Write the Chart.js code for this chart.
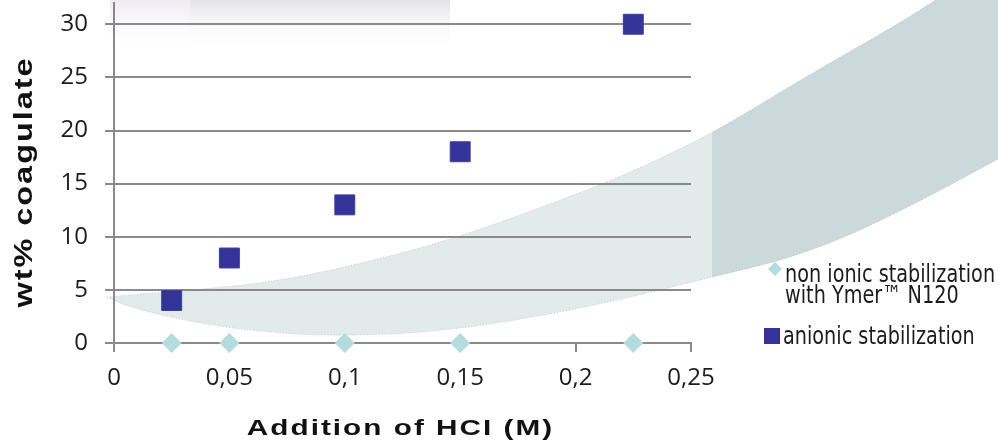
<!DOCTYPE html>
<html>
<head>
<meta charset="utf-8">
<script src="https://cdn.jsdelivr.net/npm/chart.js@4.4.1/dist/chart.umd.min.js"></script>
<style>
  html, body { margin: 0; padding: 0; background: #ffffff; }
  #wrap { width: 998px; height: 445px; position: relative; }
</style>
</head>
<body>
<div id="wrap"><canvas id="c" width="998" height="445"></canvas></div>
<script>
// ---- data ----
const xValues = [0.025, 0.05, 0.1, 0.15, 0.225];
const nonIonicValues = [0, 0, 0, 0, 0];
const anionicValues = [4, 8, 13, 18, 30];
const seriesNames = ['non ionic stabilization with Ymer™ N120', 'anionic stabilization'];
const legendLines = [['non ionic stabilization', 'with Ymer™ N120'], ['anionic stabilization']];
const xTickLabels = ['0', '0,05', '0,1', '0,15', '0,2', '0,25'];
const yTickLabels = ['0', '5', '10', '15', '20', '25', '30'];
const xTitle = 'Addition of HCI (M)';
const yTitle = 'wt% coagulate';

// ---- styles ----
const NAVY = '#333399';
const TEAL = '#b5dcdd';
const GRID = '#8a8a8a';
const TEXT = '#1c1c1c';

function toPoints(xs, ys) { return xs.map((x, i) => ({ x: x, y: ys[i] })); }

// Decorative background (band) drawn behind everything
function smoothPath(ctx, pts, moveFirst) {
  if (moveFirst) ctx.moveTo(pts[0][0], pts[0][1]); else ctx.lineTo(pts[0][0], pts[0][1]);
  for (let i = 1; i < pts.length - 1; i++) {
    const mx = (pts[i][0] + pts[i + 1][0]) / 2, my = (pts[i][1] + pts[i + 1][1]) / 2;
    ctx.quadraticCurveTo(pts[i][0], pts[i][1], mx, my);
  }
  const l = pts[pts.length - 1];
  ctx.lineTo(l[0], l[1]);
}
const bandUpper = [[107,297],[162,292],[228,287],[295,278],[362,263],[425,247],[487,227],[553,203],[620,177],[712,134],[800,80],[900,23],[945,-6]];
const bandLower = [[1000,158],[900,213],[800,256],[712,277],[620,300],[520,320],[425,333],[328,336],[262,332],[195,323],[128,307],[107,297]];

const backgroundPlugin = {
  id: 'decor',
  beforeDraw(chart) {
    const ctx = chart.ctx;
    ctx.save();
    ctx.fillStyle = '#ffffff';
    ctx.fillRect(0, 0, chart.width, chart.height);
    // faint header shading
    let g = ctx.createLinearGradient(0, 0, 0, 52);
    g.addColorStop(0, 'rgba(228,228,230,1)');
    g.addColorStop(1, 'rgba(255,255,255,0)');
    ctx.fillStyle = g;
    ctx.fillRect(190, 0, 260, 52);
    g = ctx.createLinearGradient(0, 0, 0, 52);
    g.addColorStop(0, 'rgba(238,234,242,1)');
    g.addColorStop(1, 'rgba(255,255,255,0)');
    ctx.fillStyle = g;
    ctx.fillRect(110, 0, 80, 52);
    // band
    ctx.beginPath();
    smoothPath(ctx, bandUpper, true);
    ctx.lineTo(1000, -6);
    smoothPath(ctx, bandLower, false);
    ctx.closePath();
    ctx.fillStyle = '#e3eaea';
    ctx.fill();
    ctx.save();
    ctx.clip();
    ctx.fillStyle = '#cbd9da';
    ctx.fillRect(712, -10, 300, 400);
    ctx.restore();
    // grainy edges
    ctx.setLineDash([1, 2]);
    ctx.lineWidth = 1;
    ctx.strokeStyle = 'rgba(130,130,130,0.35)';
    ctx.beginPath(); smoothPath(ctx, bandUpper, true); ctx.stroke();
    ctx.beginPath(); smoothPath(ctx, bandLower, true); ctx.stroke();
    ctx.restore();
  }
};

// Wide (stretched) axis titles
const titleStretchPlugin = {
  id: 'titleStretch',
  beforeDraw(chart) {
    const cfg = { x: { ls: '1.5px', k: 1.35, d: -2 }, y: { ls: '1.5px', k: 1.3, d: 9 } };
    for (const id of ['x', 'y']) {
      const s = chart.scales[id];
      if (!s || s._stretchedTitle) continue;
      const orig = s.drawTitle.bind(s);
      s.drawTitle = function () {
        const c = this.ctx;
        const o = cfg[id];
        c.save();
        c.letterSpacing = o.ls;
        if (id === 'x') {
          const cx = (this.left + this.right) / 2;
          c.translate(cx + o.d, 0); c.scale(o.k, 1); c.translate(-cx, 0);
        } else {
          const cy = (this.top + this.bottom) / 2;
          c.translate(0, cy + o.d); c.scale(1, o.k); c.translate(0, -cy);
        }
        orig();
        c.restore();
      };
      s._stretchedTitle = true;
    }
  }
};

// Custom legend on the right
const legendPlugin = {
  id: 'sideLegend',
  afterDraw(chart) {
    const ctx = chart.ctx;
    ctx.save();
    ctx.font = '25px "DejaVu Sans"';
    ctx.textBaseline = 'alphabetic';
    const scaleX = 0.77;
    const drawLine = (t, x, y) => {
      ctx.save();
      ctx.translate(x, y);
      ctx.scale(scaleX, 1);
      ctx.fillStyle = TEXT;
      ctx.fillText(t, 0, 0);
      ctx.restore();
    };
    const ds0 = chart.data.datasets[0];
    ctx.fillStyle = ds0.backgroundColor;
    ctx.beginPath();
    ctx.moveTo(768, 269); ctx.lineTo(775, 262); ctx.lineTo(782, 269); ctx.lineTo(775, 276);
    ctx.closePath(); ctx.fill();
    drawLine(legendLines[0][0], 785, 282);
    drawLine(legendLines[0][1], 785, 303);
    const ds1 = chart.data.datasets[1];
    ctx.fillStyle = ds1.backgroundColor;
    ctx.fillRect(764, 328, 16, 16);
    drawLine(legendLines[1][0], 783, 344);
    ctx.restore();
  }
};

new Chart(document.getElementById('c'), {
  type: 'scatter',
  data: {
    datasets: [
      {
        label: seriesNames[0],
        data: toPoints(xValues, nonIonicValues),
        pointStyle: 'rectRot',
        pointRadius: 10,
        pointHoverRadius: 10,
        backgroundColor: TEAL,
        borderColor: TEAL,
        borderWidth: 0,
        clip: false
      },
      {
        label: seriesNames[1],
        data: toPoints(xValues, anionicValues),
        pointStyle: 'rect',
        pointRadius: 14.1,
        pointHoverRadius: 14.1,
        backgroundColor: NAVY,
        borderColor: '#3d3da3',
        borderWidth: 1,
        clip: false
      }
    ]
  },
  options: {
    responsive: false,
    animation: false,
    layout: { autoPadding: false, padding: { top: 3, right: 307, bottom: 0, left: 0 } },
    plugins: {
      legend: { display: false },
      tooltip: { enabled: false }
    },
    scales: {
      x: {
        type: 'linear',
        min: 0,
        max: 0.25,
        afterFit(scale) { scale.height = 102; scale.paddingLeft = 0; scale.paddingRight = 0; },
        ticks: {
          stepSize: 0.05,
          padding: 12,
          color: TEXT,
          font: { family: '"Open Sans"', size: 24 },
          callback: (v, i) => xTickLabels[i]
        },
        grid: { drawOnChartArea: false, drawTicks: true, tickLength: 9, color: GRID, lineWidth: 2 },
        border: { display: true, color: GRID, width: 2 },
        title: {
          display: true,
          text: xTitle,
          color: '#111111',
          font: { family: '"Liberation Sans"', size: 22, weight: 'bold' },
          padding: { top: 0, bottom: 3 }
        }
      },
      y: {
        type: 'linear',
        min: 0,
        max: 32,
        afterFit(scale) { scale.width = 114; scale.paddingTop = 0; scale.paddingBottom = 0; },
        afterBuildTicks(scale) {
          scale.ticks = yTickLabels.map(t => ({ value: Number(t) }));
        },
        ticks: {
          stepSize: 5,
          padding: 17,
          color: TEXT,
          font: { family: '"Open Sans"', size: 24 },
          callback: (v, i) => yTickLabels[i]
        },
        grid: { drawOnChartArea: true, drawTicks: true, tickLength: 9, color: GRID, lineWidth: 2 },
        border: { display: true, color: GRID, width: 2 },
        title: {
          display: true,
          text: yTitle,
          color: '#111111',
          font: { family: '"Liberation Sans"', size: 25, weight: 'bold' },
          padding: { top: 10, bottom: 0 }
        }
      }
    }
  },
  plugins: [backgroundPlugin, titleStretchPlugin, legendPlugin]
});
</script>
</body>
</html>
